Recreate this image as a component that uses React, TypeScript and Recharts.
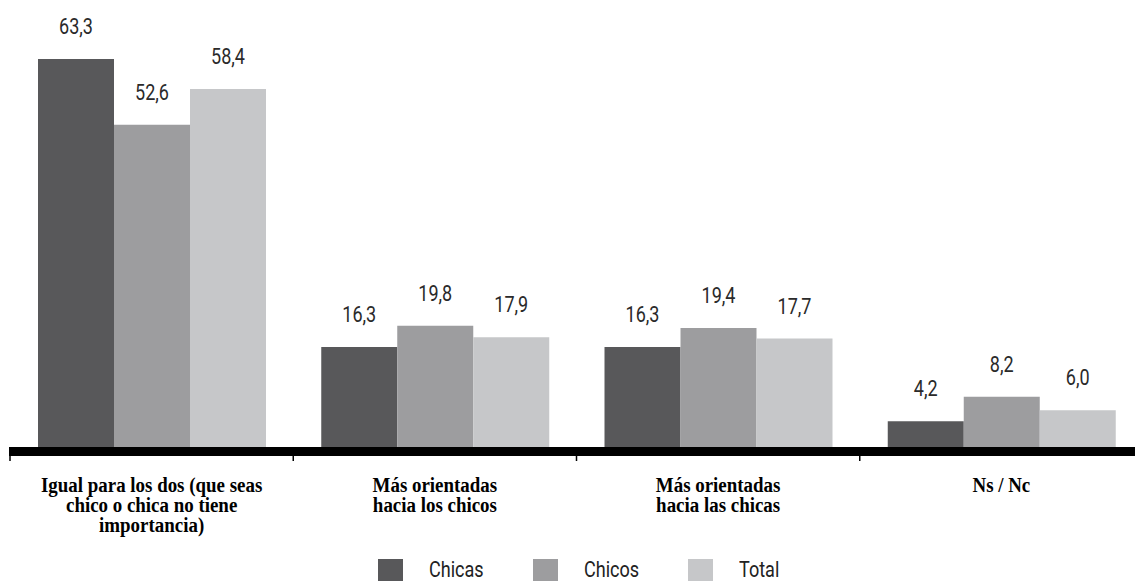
import { BarChart, Bar, XAxis, YAxis, Legend, LabelList, ReferenceLine } from 'recharts'

const categories = [
  'Igual para los dos (que seas\nchico o chica no tiene\nimportancia)',
  'Más orientadas\nhacia los chicos',
  'Más orientadas\nhacia las chicas',
  'Ns / Nc',
]
const chicas = [63.3, 16.3, 16.3, 4.2]
const chicos = [52.6, 19.8, 19.4, 8.2]
const total = [58.4, 17.9, 17.7, 6.0]

const data = categories.map((name, i) => ({
  name,
  chicas: chicas[i],
  chicos: chicos[i],
  total: total[i],
}))

const narrow = "Roboto, 'Liberation Sans', sans-serif"
const fmt = (v: any) => Number(v).toFixed(1).replace('.', ',')

function CategoryTick(props: any) {
  const { x, y, payload } = props
  const lines = String(payload.value).split('\n')
  const edge = payload.coordinate - (payload.offset || 0)
  return (
    <g>
      <line x1={edge} x2={edge} y1={y} y2={y + 14} stroke="#000" strokeWidth={1.5} />
      <text
        transform={`translate(${x},${y}) scale(0.88,1)`}
        textAnchor="middle"
        fontFamily="'Liberation Serif', 'Times New Roman', serif"
        fontWeight="bold"
        fontSize={21.5}
        fill="#000"
      >
        {lines.map((l, i) => (
          <tspan key={i} x={0} y={45 + i * 20}>
            {l}
          </tspan>
        ))}
      </text>
    </g>
  )
}

function ValueLabel(props: any) {
  const { x, y, width, value } = props
  return (
    <text
      transform={`translate(${x + width / 2},${y - 25}) scale(0.82,1)`}
      textAnchor="middle"
      fontFamily={narrow}
      fontSize={22}
      fill="#2a2a2a"
    >
      {fmt(value)}
    </text>
  )
}

function LegendContent(props: any) {
  const { payload } = props
  return (
    <div style={{ display: 'flex', marginLeft: 378, height: 24 }}>
      {payload.map((p: any) => (
        <div key={p.value} style={{ display: 'flex', alignItems: 'flex-end', width: 155 }}>
          <span style={{ width: 25, height: 22, background: p.color, marginRight: 26 }} />
          <span
            style={{
              fontFamily: narrow,
              fontSize: 22,
              color: '#222',
              lineHeight: '22px',
              display: 'inline-block',
              transform: 'scaleX(0.82)',
              transformOrigin: 'left bottom',
            }}
          >
            {p.value}
          </span>
        </div>
      ))}
    </div>
  )
}

export default function App() {
  return (
    <div style={{ position: 'absolute', left: 0, top: 0, width: 1135, height: 581, overflow: 'hidden', background: '#fff' }}>
      <BarChart
        width={1143}
        height={581}
        data={data}
        margin={{ top: 18, right: 0, left: 10, bottom: 10 }}
        barCategoryGap={28}
        barGap={0}
      >
        <XAxis
          dataKey="name"
          axisLine={false}
          tickLine={false}
          tickSize={0}
          tickMargin={0}
          height={100}
          interval={0}
          tick={<CategoryTick />}
        />
        <YAxis hide domain={[0, 70]} />
        <ReferenceLine
          y={0}
          shape={(p: any) => (
            <line x1={p.x1 - 1} x2={p.x2} y1={p.y1 + 4.5} y2={p.y2 + 4.5} stroke="#000" strokeWidth={9} />
          )}
        />
        <Legend
          verticalAlign="bottom"
          content={<LegendContent />}
          wrapperStyle={{ top: 557, bottom: 'auto', left: 0, width: 1135, height: 24 }}
        />
        <Bar dataKey="chicas" name="Chicas" fill="#58585a" isAnimationActive={false}>
          <LabelList dataKey="chicas" content={<ValueLabel />} />
        </Bar>
        <Bar dataKey="chicos" name="Chicos" fill="#9d9d9f" isAnimationActive={false}>
          <LabelList dataKey="chicos" content={<ValueLabel />} />
        </Bar>
        <Bar dataKey="total" name="Total" fill="#c6c7c9" isAnimationActive={false}>
          <LabelList dataKey="total" content={<ValueLabel />} />
        </Bar>
      </BarChart>
    </div>
  )
}
